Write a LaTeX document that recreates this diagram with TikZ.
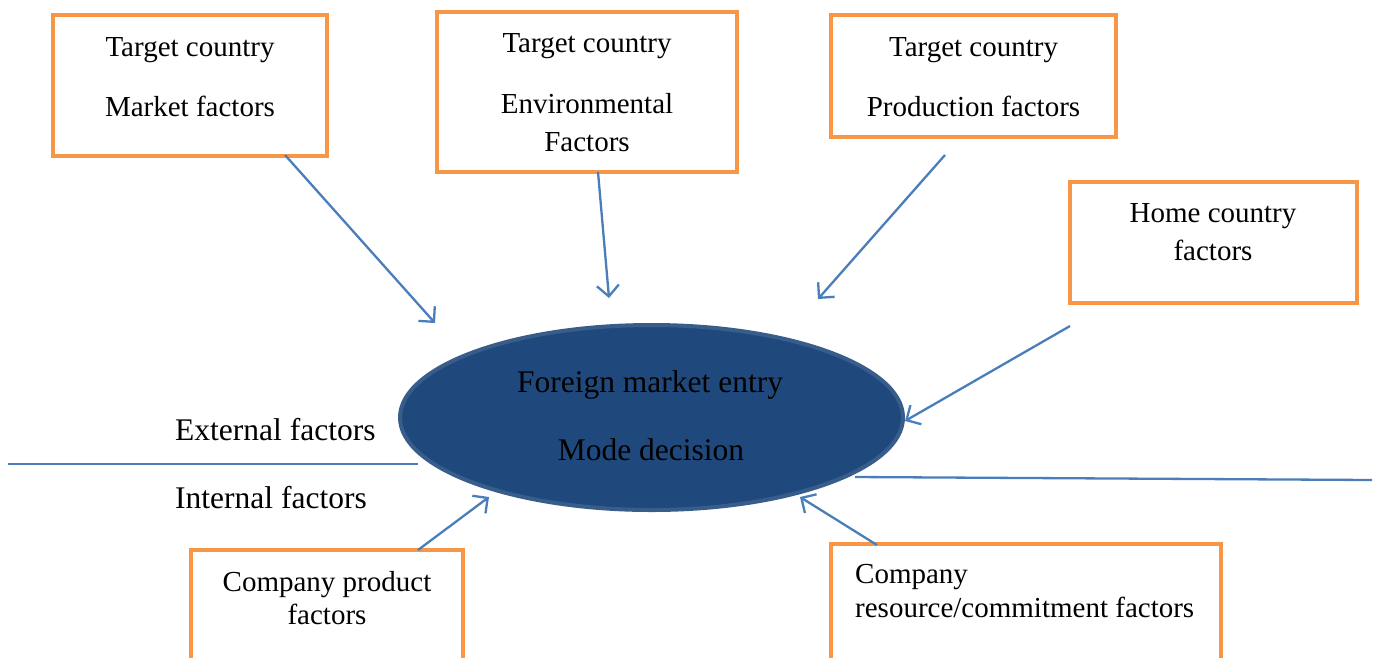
\documentclass[tikz,border=0pt]{standalone}
\usepackage{fontspec}
\setmainfont{Liberation Serif}
\usetikzlibrary{arrows.meta,shapes.geometric}
\definecolor{boxorange}{HTML}{F79646}
\definecolor{lineblue}{HTML}{4A7EBB}
\definecolor{ellfill}{HTML}{1F497D}
\definecolor{elldraw}{HTML}{385D8A}
\tikzset{
  obox/.style={draw=boxorange, line width=4pt, fill=white, inner sep=0pt, outer sep=0pt},
  btext/.style={anchor=base, inner sep=0pt, font=\fontsize{29}{35}\selectfont},
  btextl/.style={anchor=base west, inner sep=0pt, font=\fontsize{29}{35}\selectfont},
  etext/.style={anchor=base, inner sep=0pt, font=\fontsize{31.5}{38}\selectfont},
  ltext/.style={anchor=base west, inner sep=0pt, font=\fontsize{31.5}{38}\selectfont},
  conn/.style={draw=lineblue, line width=2.3pt, -{Straight Barb[length=11pt,width=22pt,line width=2.3pt]}},
  divider/.style={draw=lineblue, line width=2.3pt},
}
\begin{document}
\begin{tikzpicture}[x=1pt,y=-1pt]
\clip (0,0) rectangle (1381,657);
\fill[white] (0,0) rectangle (1381,657);
% boxes
\node[obox, rectangle, minimum width=274pt, minimum height=141pt] (b1) at (190,85.5) {};
\node[obox, rectangle, minimum width=300pt, minimum height=160pt] (b2) at (587,92) {};
\node[obox, rectangle, minimum width=285pt, minimum height=122pt] (b3) at (973.5,76) {};
\node[obox, rectangle, minimum width=287pt, minimum height=121pt] (b4) at (1213.5,242.5) {};
\node[obox, rectangle, minimum width=272pt, minimum height=200pt] (b5) at (327,650) {};
\node[obox, rectangle, minimum width=390pt, minimum height=200pt] (b6) at (1026,644) {};
% box texts
\node[btext] (t1a) at (190,56) {Target country};
\node[btext] (t1b) at (190,116) {Market factors};
\node[btext] (t2a) at (587,52) {Target country};
\node[btext] (t2b) at (587,113) {Environmental};
\node[btext] (t2c) at (587,151) {Factors};
\node[btext] (t3a) at (973.5,56) {Target country};
\node[btext] (t3b) at (973.5,116) {Production factors};
\node[btext] (t4a) at (1213,222) {Home country};
\node[btext] (t4b) at (1213,260) {factors};
\node[btext] (t5a) at (327,591) {Company product};
\node[btext] (t5b) at (327,624) {factors};
\node[btextl] (t6a) at (855,583) {Company};
\node[btextl] (t6b) at (855,617) {resource/commitment factors};
% ellipse
\node[ellipse, draw=elldraw, fill=ellfill, line width=4pt, minimum width=503pt, minimum height=185pt, inner sep=0pt] (ell) at (651.5,417.5) {};
\node[etext] (e1) at (650,392) {Foreign market entry};
\node[etext] (e2) at (651,460) {Mode decision};
% side labels
\node[ltext] (ext) at (175,440) {External factors};
\node[ltext] (int) at (175,508) {Internal factors};
% connector end points
\coordinate (s1) at (285,155);
\coordinate (e1a) at (435,323);
\coordinate (s2) at (598,172);
\coordinate (e2a) at (609,298);
\coordinate (s3) at (945,155);
\coordinate (e3a) at (818,299);
\coordinate (s4) at (1070,326);
\coordinate (e4a) at (905,421);
\coordinate (s5) at (418,550);
\coordinate (e5a) at (489,497);
\coordinate (s6) at (877,545);
\coordinate (e6a) at (800,497);
\coordinate (dl1) at (8,464);
\coordinate (dl2) at (418,464);
\coordinate (dr1) at (855,477);
\coordinate (dr2) at (1372,480);
% connectors
\draw[conn] (s1) -- (e1a);
\draw[conn] (s2) -- (e2a);
\draw[conn] (s3) -- (e3a);
\draw[conn] (s4) -- (e4a);
\draw[conn] (s5) -- (e5a);
\draw[conn] (s6) -- (e6a);
\draw[divider] (dl1) -- (dl2);
\draw[divider] (dr1) -- (dr2);
\end{tikzpicture}
\end{document}
